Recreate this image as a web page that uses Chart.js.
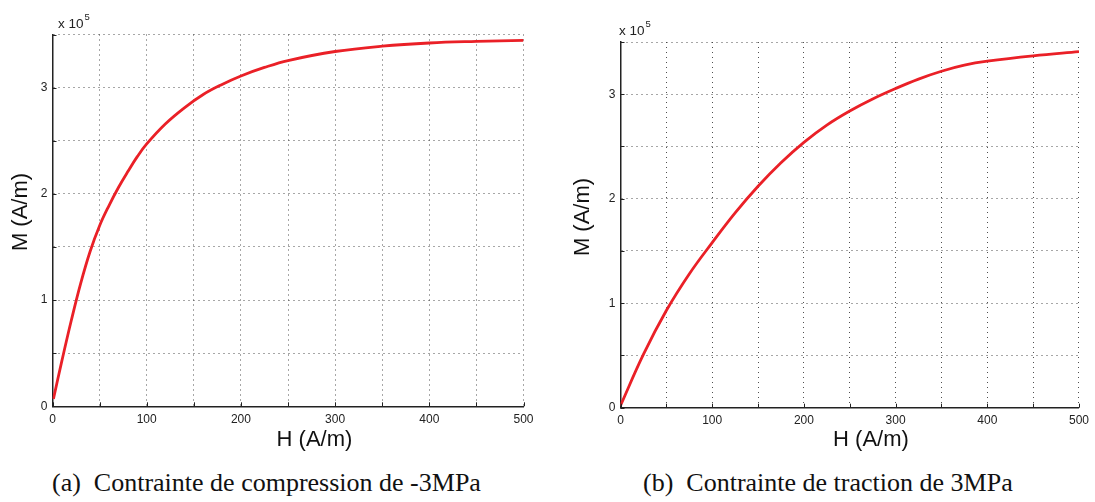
<!DOCTYPE html>
<html>
<head>
<meta charset="utf-8">
<script src="https://cdn.jsdelivr.net/npm/chart.js@4"></script>
<style>
  body { margin: 0; background: #fff; width: 1095px; height: 502px; position: relative; overflow: hidden; }
  .box { position: absolute; top: 0; height: 460px; }
  .cap { position: absolute; font-family: "Liberation Serif", "Times New Roman", serif; font-size: 26px; line-height: 26px; color: #111; white-space: pre; }
</style>
</head>
<body>
<div class="box" style="left:0;width:545px"><canvas id="chartA"></canvas></div>
<div class="box" style="left:560px;width:535px"><canvas id="chartB"></canvas></div>
<div class="cap" style="left:52px;top:470px">(a)  Contrainte de compression de -3MPa</div>
<div class="cap" style="left:643px;top:470px">(b)  Contrainte de traction de 3MPa</div>
<script>
// H in A/m, M in units of 1e5 A/m
const hCompression = [1, 10, 20, 30, 40, 50, 60, 70, 80, 90, 100, 120, 140, 160, 180, 200, 225, 250, 300, 350, 400, 450, 500];
const mCompression = [0.07, 0.43, 0.81, 1.16, 1.46, 1.70, 1.89, 2.06, 2.21, 2.35, 2.47, 2.66, 2.81, 2.935, 3.03, 3.11, 3.19, 3.255, 3.34, 3.39, 3.42, 3.435, 3.445];

const hTraction = [0, 25, 50, 75, 100, 125, 150, 175, 200, 225, 250, 275, 300, 325, 350, 375, 400, 450, 500];
const mTraction = [0.02, 0.51, 0.93, 1.28, 1.58, 1.865, 2.12, 2.345, 2.54, 2.705, 2.84, 2.955, 3.055, 3.145, 3.22, 3.278, 3.316, 3.368, 3.408];

const xTickLabels = [0, 100, 200, 300, 400, 500];
const yTickLabels = [0, 1, 2, 3];
const xTitle = "H (A/m)";
const yTitle = "M (A/m)";

const sans = "'Liberation Sans', Arial, Helvetica, sans-serif";

// MATLAB-style inward ticks, axis labels and the "x 10^5" multiplier
const axisDecor = {
  id: "axisDecor",
  afterDraw(chart, args, opts) {
    const ctx = chart.ctx;
    const x = chart.scales.x, y = chart.scales.y;
    const area = chart.chartArea;
    ctx.save();
    ctx.strokeStyle = "#222";
    ctx.lineWidth = 1;
    x.ticks.forEach((t) => {
      const px = Math.round(x.getPixelForValue(t.value)) + 0.5;
      ctx.beginPath();
      ctx.moveTo(px, area.bottom);
      ctx.lineTo(px, area.bottom - 4);
      ctx.stroke();
    });
    y.ticks.forEach((t) => {
      const py = Math.round(y.getPixelForValue(t.value)) + 0.5;
      ctx.beginPath();
      ctx.moveTo(area.left, py);
      ctx.lineTo(area.left + 4, py);
      ctx.stroke();
    });

    ctx.fillStyle = "#222";
    ctx.textBaseline = "alphabetic";
    ctx.textAlign = "left";
    ctx.font = "13.5px " + sans;
    ctx.fillText("x 10", opts.expX, opts.expY);
    const w = ctx.measureText("x 10").width;
    ctx.font = "9.5px " + sans;
    ctx.fillText("5", opts.expX + w + 1, opts.expY - 8);

    ctx.fillStyle = "#111";
    ctx.font = "22px " + sans;
    ctx.textAlign = "center";
    ctx.textBaseline = "middle";
    ctx.fillText(xTitle, opts.xtX, opts.xtY);
    ctx.translate(opts.ytX, opts.ytY);
    ctx.rotate(-Math.PI / 2);
    ctx.fillText(yTitle, 0, 0);
    ctx.restore();
  },
};

function makeChart(id, hs, ms, cfg) {
  const ctx = document.getElementById(id).getContext("2d");
  return new Chart(ctx, {
    type: "line",
    data: {
      datasets: [
        {
          data: hs.map((h, i) => ({ x: h, y: ms[i] })),
          borderColor: "#ea2027",
          borderWidth: 2.8,
          pointRadius: 0,
          tension: 0.4,
          fill: false,
        },
      ],
    },
    options: {
      responsive: true,
      maintainAspectRatio: false,
      animation: false,
      layout: { padding: { top: cfg.top, right: cfg.right, left: 0, bottom: 0 } },
      plugins: {
        legend: { display: false },
        tooltip: { enabled: false },
        axisDecor: cfg.decor,
      },
      scales: {
        x: {
          type: "linear",
          min: 0,
          max: 500,
          afterFit: (s) => { s.height = cfg.xHeight; },
          ticks: {
            stepSize: 50,
            autoSkip: false,
            maxRotation: 0,
            padding: 6,
            color: "#222",
            font: { family: sans, size: 12 },
            callback: (v) => (xTickLabels.includes(v) ? String(v) : ""),
          },
          grid: { color: "rgba(60,60,60,0.9)", lineWidth: 1, drawTicks: false },
          border: { display: true, color: "#222", width: 1.5, dash: [1, 4] },
        },
        y: {
          min: 0,
          max: 3.5,
          afterFit: (s) => { s.width = cfg.yWidth; },
          ticks: {
            stepSize: 0.5,
            autoSkip: false,
            padding: 5,
            color: "#222",
            font: { family: sans, size: 12 },
            callback: (v) => (yTickLabels.includes(v) ? String(v) : ""),
          },
          grid: { color: "rgba(60,60,60,0.9)", lineWidth: 1, drawTicks: false },
          border: { display: true, color: "#222", width: 1.5, dash: [1, 4] },
        },
      },
    },
    plugins: [axisDecor],
  });
}

makeChart("chartA", hCompression, mCompression, {
  top: 34.5, right: 21.5, yWidth: 52.5, xHeight: 53.7,
  decor: { expX: 58, expY: 28.3, xtX: 314.5, xtY: 440, ytX: 21, ytY: 212 },
});
makeChart("chartB", hTraction, mTraction, {
  top: 42, right: 13, yWidth: 60.5, xHeight: 52.3,
  decor: { expX: 59, expY: 34.5, xtX: 311, xtY: 440, ytX: 23, ytY: 217 },
});
</script>
</body>
</html>
